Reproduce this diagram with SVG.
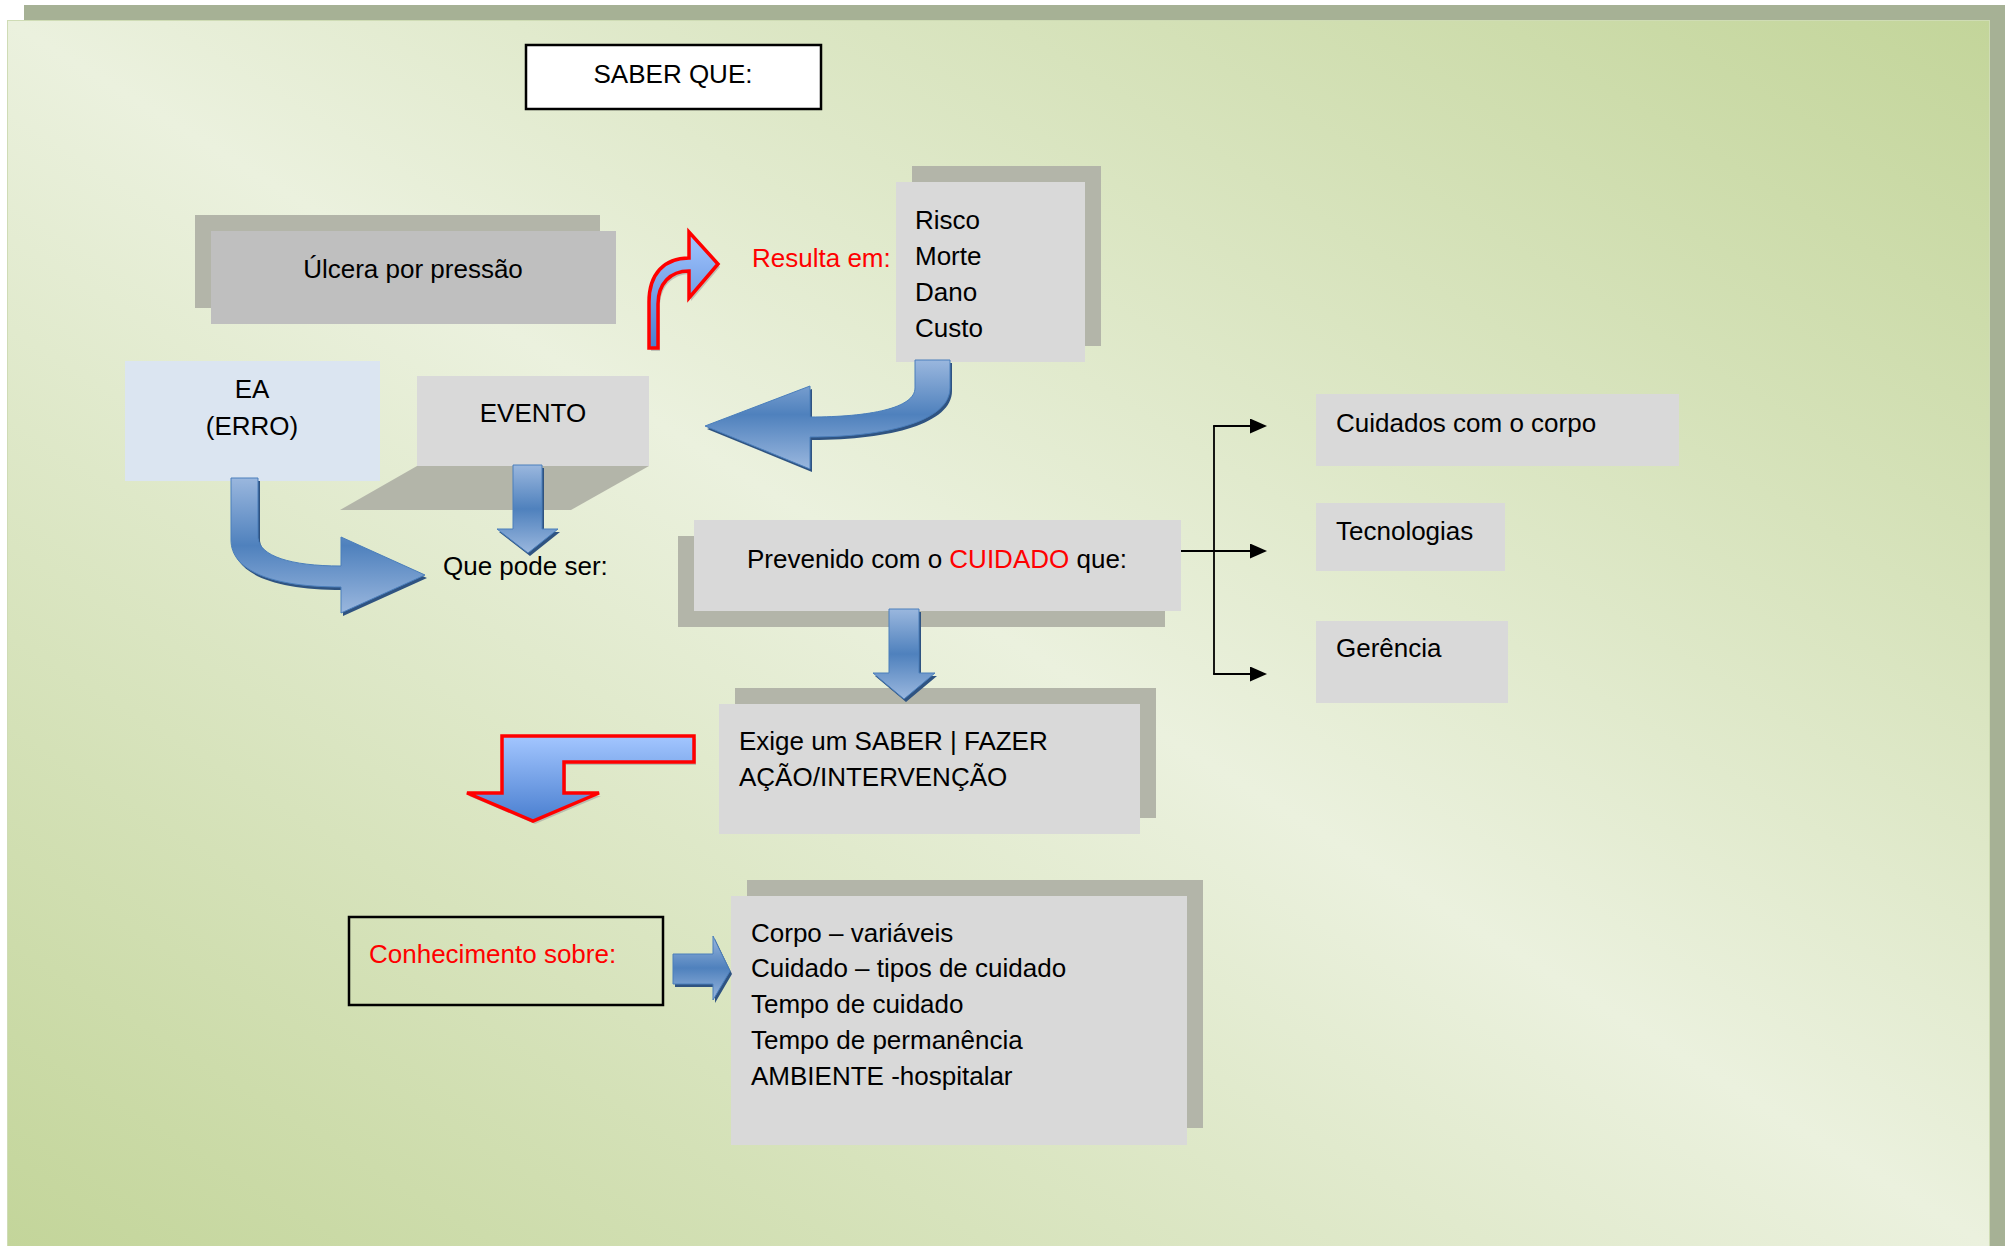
<svg xmlns="http://www.w3.org/2000/svg" width="2009" height="1246" viewBox="0 0 2009 1246">
<style>
text{font-family:"Liberation Sans",Arial,sans-serif;font-size:26px;fill:#000}
.red{fill:#ff0000}
.box{fill:#d9d9d9}
.shadow{fill:#b3b5a9}
.outline{fill:none;stroke:#000;stroke-width:2.5}
.barrow{fill:url(#blueGrad);stroke:#4a7ebb;stroke-width:1}
.bshadow{fill:#2f5381}
.rarrow{fill:url(#redArrowGrad);stroke:#ff0000;stroke-width:3.5;stroke-linejoin:miter}
.rshadow{fill:#9a9a9a;opacity:0.55}
.line{fill:none;stroke:#000;stroke-width:1.8}
</style>
<defs>
<linearGradient id="bgGrad" x1="0" y1="1" x2="1" y2="0">
<stop offset="0" stop-color="#c3d59a"/>
<stop offset="0.5" stop-color="#ebf1de"/>
<stop offset="1" stop-color="#c3d59a"/>
</linearGradient>
<linearGradient id="blueGrad" x1="0" y1="0" x2="0" y2="1">
<stop offset="0" stop-color="#9ab7de"/>
<stop offset="0.5" stop-color="#4f81bd"/>
<stop offset="1" stop-color="#9ab7de"/>
</linearGradient>
<linearGradient id="redArrowGrad" x1="0" y1="0" x2="0" y2="1">
<stop offset="0" stop-color="#a3c6ff"/>
<stop offset="1" stop-color="#4a7fd0"/>
</linearGradient>
<marker id="blackHead" markerUnits="userSpaceOnUse" markerWidth="17" markerHeight="15" viewBox="0 0 17 15" refX="0" refY="7.5" orient="auto">
<path d="M0,0 L17,7.5 L0,15 Z" fill="#000"/>
</marker>
<path id="arrEA" d="M231,478 L258,478 L258,538 C260,556 290,566 341,566 L341,537 L425,575 L341,613 L341,587 C270,587 231,570 231,540 Z"/>
<path id="arrRisco" d="M915,360 L950,360 L950,388 C950,420 890,437 810,437 L810,469 L705,426 L810,386 L810,417 C870,417 915,408 915,388 Z"/>
<path id="arrEvento" d="M513,465 L542,465 L542,529 L558,529 L528,553 L497,529 L513,529 Z"/>
<path id="arrPrev" d="M889,609 L919,609 L919,673 L935,673 L904,699 L873,673 L889,673 Z"/>
<path id="arrConh" d="M673,954 L713,954 L713,936 L730,971 L713,1000 L713,984 L673,984 Z"/>
<path id="arrRedCurve" d="M649,348 L649,302 C649,274 664,258 689,258 L689,232 L718,264 L689,298 L689,271 C670,271 658,284 658,304 L658,348 Z"/>
<path id="arrRedBent" d="M694,736 L502,736 L502,793 L467,793 L533,821 L599,793 L564,793 L564,762 L694,762 Z"/>
</defs>

<g id="background">
<rect x="0" y="0" width="2009" height="1246" fill="#ffffff"/>
<rect x="24" y="5" width="1981" height="16" fill="#a6b195"/>
<rect x="1990" y="5" width="15" height="1241" fill="#a6b195"/>
<rect x="7" y="20" width="1983" height="1226" fill="url(#bgGrad)"/>
<rect x="7.5" y="20.5" width="1982" height="1226" fill="none" stroke="#cfdcb5" stroke-width="1"/>
</g>

<g id="saber-que">
<rect x="526" y="45" width="295" height="64" fill="#ffffff" stroke="#000" stroke-width="2.5"/>
<text x="673" y="83" text-anchor="middle">SABER QUE:</text>
</g>

<g id="ulcera">
<rect class="shadow" x="195" y="215" width="405" height="93"/>
<rect x="211" y="231" width="405" height="93" fill="#bfbfbf"/>
<text x="413" y="278" text-anchor="middle">Úlcera por pressão</text>
</g>

<g id="resulta-em">
<text class="red" x="752" y="267">Resulta em:</text>
</g>

<g id="risco">
<rect class="shadow" x="912" y="166" width="189" height="180"/>
<rect class="box" x="896" y="182" width="189" height="180"/>
<text x="915" y="229">Risco</text>
<text x="915" y="265">Morte</text>
<text x="915" y="301">Dano</text>
<text x="915" y="337">Custo</text>
</g>

<g id="ea">
<rect x="125" y="361" width="255" height="120" fill="#dbe5f1"/>
<text x="252" y="398" text-anchor="middle">EA</text>
<text x="252" y="435" text-anchor="middle">(ERRO)</text>
</g>

<g id="evento">
<polygon class="shadow" points="417,466 649,466 571,510 340,510"/>
<rect class="box" x="417" y="376" width="232" height="90"/>
<text x="533" y="422" text-anchor="middle">EVENTO</text>
</g>

<g id="que-pode-ser">
<text x="443" y="575">Que pode ser:</text>
</g>

<g id="prevenido">
<rect class="shadow" x="678" y="536" width="487" height="91"/>
<rect class="box" x="694" y="520" width="487" height="91"/>
<text x="747" y="568">Prevenido com o <tspan class="red">CUIDADO</tspan> que:</text>
</g>

<g id="cuidados-corpo">
<rect class="box" x="1316" y="394" width="363" height="72"/>
<text x="1336" y="432">Cuidados com o corpo</text>
</g>

<g id="tecnologias">
<rect class="box" x="1316" y="503" width="189" height="68"/>
<text x="1336" y="540">Tecnologias</text>
</g>

<g id="gerencia">
<rect class="box" x="1316" y="621" width="192" height="82"/>
<text x="1336" y="657">Gerência</text>
</g>

<g id="exige">
<rect class="shadow" x="735" y="688" width="421" height="130"/>
<rect class="box" x="719" y="704" width="421" height="130"/>
<text x="739" y="750">Exige um SABER | FAZER</text>
<text x="739" y="786">AÇÃO/INTERVENÇÃO</text>
</g>

<g id="conhecimento">
<rect class="outline" x="349" y="917" width="314" height="88"/>
<text class="red" x="369" y="963">Conhecimento sobre:</text>
</g>

<g id="lista">
<rect class="shadow" x="747" y="880" width="456" height="248"/>
<rect class="box" x="731" y="896" width="456" height="249"/>
<text x="751" y="942">Corpo – variáveis</text>
<text x="751" y="977">Cuidado – tipos de cuidado</text>
<text x="751" y="1013">Tempo de cuidado</text>
<text x="751" y="1049">Tempo de permanência</text>
<text x="751" y="1085">AMBIENTE -hospitalar</text>
</g>

<g id="connectors">
<use href="#arrRedCurve" class="rshadow" transform="translate(2,3)"/>
<use href="#arrRedCurve" class="rarrow"/>
<use href="#arrRisco" class="bshadow" transform="translate(2,3)"/>
<use href="#arrRisco" class="barrow"/>
<use href="#arrEA" class="bshadow" transform="translate(2,3)"/>
<use href="#arrEA" class="barrow"/>
<use href="#arrEvento" class="bshadow" transform="translate(2,3)"/>
<use href="#arrEvento" class="barrow"/>
<use href="#arrPrev" class="bshadow" transform="translate(2,3)"/>
<use href="#arrPrev" class="barrow"/>
<use href="#arrConh" class="bshadow" transform="translate(2,3)"/>
<use href="#arrConh" class="barrow"/>
<use href="#arrRedBent" class="rshadow" transform="translate(2,3)"/>
<use href="#arrRedBent" class="rarrow"/>
<path class="line" d="M1181,551 L1250,551" marker-end="url(#blackHead)"/>
<path class="line" d="M1214,426 L1214,674"/>
<path class="line" d="M1213.1,426 L1250,426" marker-end="url(#blackHead)"/>
<path class="line" d="M1213.1,674 L1250,674" marker-end="url(#blackHead)"/>
</g>
</svg>
